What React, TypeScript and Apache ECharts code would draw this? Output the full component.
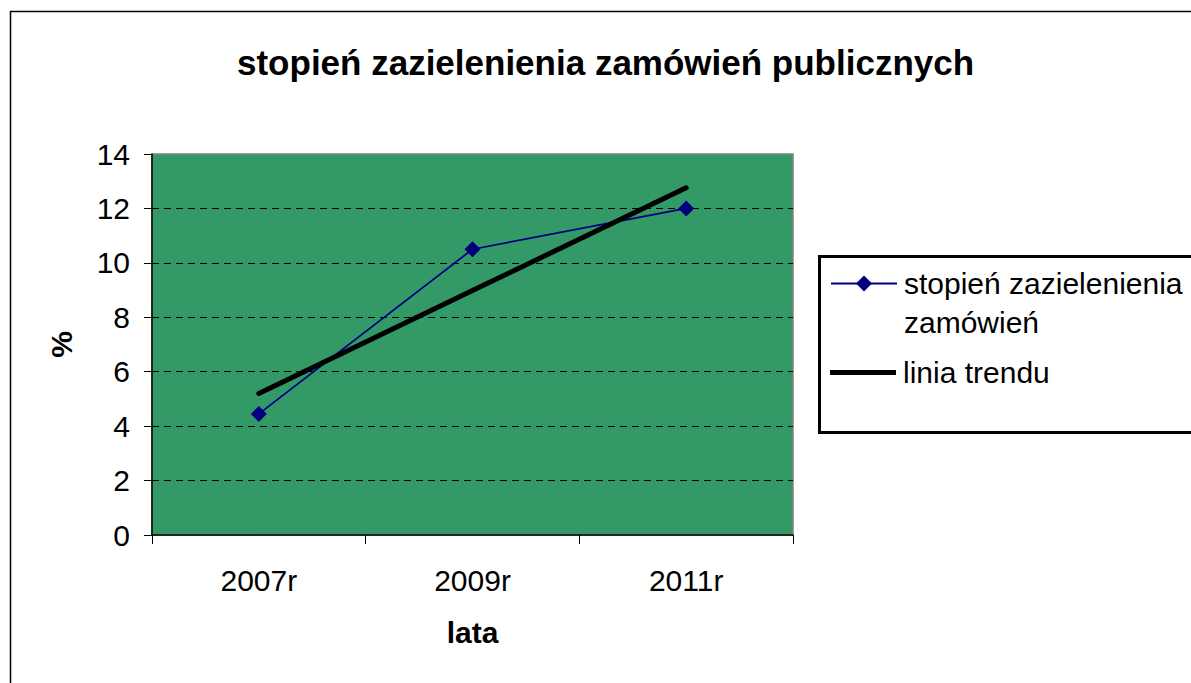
import React, { useEffect, useRef } from "react";
import * as echarts from "echarts";

const categories = ["2007r", "2009r", "2011r"];
const greeningValues = [4.45, 10.5, 12.0];
const trendValues = [5.2, 8.98, 12.76];
const seriesNames = ["stopień zazielenienia zamówień", "linia trendu"];
const yTicks = [0, 2, 4, 6, 8, 10, 12, 14];

const FONT = "'Liberation Sans', Arial, sans-serif";

export default function App() {
  const ref = useRef<HTMLDivElement>(null);
  useEffect(() => {
    document.body.style.margin = "0";
    const chart = echarts.init(ref.current!, null, { renderer: "svg" });
    chart.setOption({
      animation: false,
      backgroundColor: "#ffffff",
      textStyle: { fontFamily: FONT },
      title: {
        text: "stopień zazielenienia zamówień publicznych",
        left: 232,
        top: 40,
        textStyle: { fontFamily: FONT, fontSize: 35, fontWeight: "bold", color: "#000" },
      },
      graphic: [
        {
          type: "rect",
          shape: { x: 10.5, y: 11.5, width: 1300, height: 800 },
          style: { fill: "none", stroke: "#000", lineWidth: 1.5 },
          silent: true,
          z: 100,
        },
        {
          type: "rect",
          shape: { x: 819.5, y: 256.5, width: 500, height: 176 },
          style: { fill: "#fff", stroke: "#000", lineWidth: 3 },
          silent: true,
          z: -1,
        },
      ],
      legend: [
        {
          data: [seriesNames[0]],
          orient: "vertical",
          left: 830,
          top: 283 - 58,
          itemWidth: 66,
          itemHeight: 20,
          padding: 0,
          itemGap: 0,
          formatter: () => "\nstopień zazielenienia\nzamówień",
          textStyle: { fontFamily: FONT, fontSize: 30, color: "#000", lineHeight: 39, padding: [0, 0, 0, 2] },
        },
        {
          data: [{ name: seriesNames[1], icon: "rect" }],
          orient: "vertical",
          left: 830,
          top: 373 - 20,
          itemWidth: 66,
          itemHeight: 5,
          padding: 0,
          itemStyle: { color: "#000", borderWidth: 0 },
          lineStyle: { width: 0 },
          textStyle: { fontFamily: FONT, fontSize: 30, color: "#000", lineHeight: 39, padding: [0, 0, 0, 2] },
        },
      ],
      grid: {
        left: 152,
        top: 154,
        right: 398,
        bottom: 148,
        show: true,
        backgroundColor: "#339966",
        borderColor: "#808080",
        borderWidth: 1.5,
      },
      xAxis: {
        type: "category",
        data: categories,
        boundaryGap: true,
        name: "lata",
        nameLocation: "middle",
        nameGap: 82,
        nameTextStyle: { fontFamily: FONT, fontSize: 30, fontWeight: "bold", color: "#000" },
        axisLine: { lineStyle: { color: "#000", width: 1.5 } },
        axisTick: { show: true, length: 9, lineStyle: { color: "#000", width: 1 } },
        axisLabel: { fontFamily: FONT, fontSize: 30, color: "#000", margin: 30 },
        splitLine: { show: false },
      },
      yAxis: {
        type: "value",
        min: yTicks[0],
        max: yTicks[yTicks.length - 1],
        interval: 2,
        name: "%",
        nameLocation: "middle",
        nameGap: 76,
        nameRotate: 90,
        nameTextStyle: { fontFamily: FONT, fontSize: 30, fontWeight: "bold", color: "#000" },
        axisLine: { show: true, lineStyle: { color: "#000", width: 1.5 } },
        axisTick: { show: true, length: 8, lineStyle: { color: "#000", width: 1 } },
        axisLabel: { fontFamily: FONT, fontSize: 30, color: "#000", margin: 22 },
        splitLine: {
          show: true,
          showMinLine: false,
          showMaxLine: false,
          lineStyle: { color: "#000", width: 1, type: [7, 5] },
        },
      },
      series: [
        {
          name: seriesNames[0],
          type: "line",
          data: greeningValues,
          symbol: "diamond",
          symbolSize: 16,
          lineStyle: { color: "#000080", width: 1.75 },
          itemStyle: { color: "#000080" },
          z: 3,
        },
        {
          name: seriesNames[1],
          type: "line",
          data: trendValues,
          symbol: "none",
          lineStyle: { color: "#000", width: 5, cap: "round" },
          itemStyle: { color: "#000" },
          z: 4,
        },
      ],
    });
    return () => chart.dispose();
  }, []);
  return <div ref={ref} style={{ width: 1191, height: 683 }} />;
}
